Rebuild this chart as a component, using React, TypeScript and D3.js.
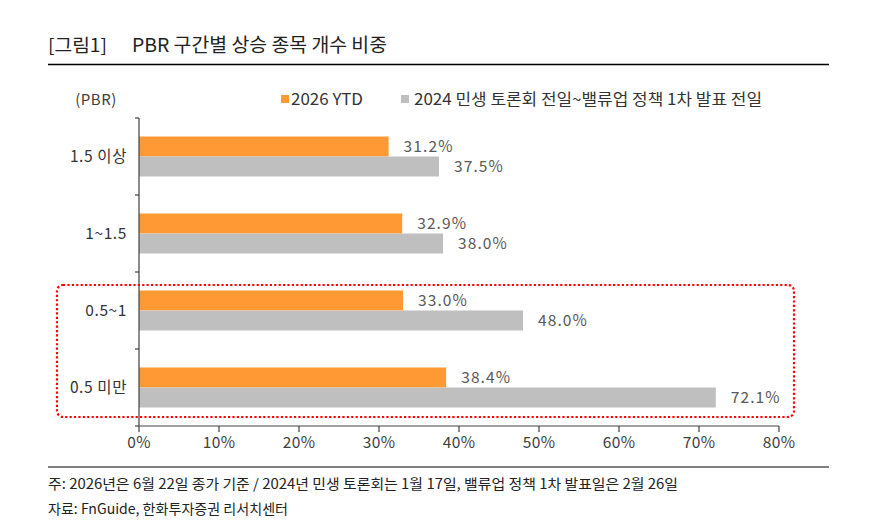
import React from "react";
import * as d3 from "d3";

// PBR bands, top to bottom
const categories = ["1.5 이상", "1~1.5", "0.5~1", "0.5 미만"];
const seriesNames = ["2026 YTD", "2024 민생 토론회 전일~밸류업 정책 1차 발표 전일"];
const ytd2026 = [31.2, 32.9, 33.0, 38.4];
const valueUp2024 = [37.5, 38.0, 48.0, 72.1];
const xTicks = [0, 10, 20, 30, 40, 50, 60, 70, 80];

const colors = ["#FF9933", "#BFBFBF"];
const FONT = "'Noto Sans CJK KR', 'Noto Sans', sans-serif";

export default function App() {
  const W = 875;
  const H = 524;
  const left = 139;
  const right = 779;
  const top = 118;
  const bottom = 426;

  const x = d3.scaleLinear().domain([0, 80]).range([left, right]);
  const y = d3.scaleBand<string>().domain(categories).range([top, bottom]);
  const barH = 20;

  const series = [ytd2026, valueUp2024];
  const bandEdges = [top, ...categories.map((c) => (y(c) as number) + y.bandwidth())];

  const highlightTop = (y("0.5~1") as number) + 13;
  const highlightBottom = (y("0.5 미만") as number) + y.bandwidth() - 9;

  return (
    <svg
      width={W}
      height={H}
      style={{ position: "absolute", left: 0, top: 0, background: "#fff" }}
      fontFamily={FONT}
    >
      {/* Title */}
      <text x={48} y={52} fontSize={18} fill="#222" textLength={59} lengthAdjust="spacingAndGlyphs">[그림1]</text>
      <text x={132} y={52} fontSize={19} fill="#222" textLength={255} lengthAdjust="spacingAndGlyphs">
        PBR 구간별 상승 종목 개수 비중
      </text>
      <line x1={48} x2={829} y1={64.5} y2={64.5} stroke="#000" strokeWidth={1.5} />

      {/* Legend */}
      <rect x={281} y={95} width={8} height={8} fill={colors[0]} />
      <text x={291} y={105} fontSize={16} fill="#333" textLength={72} lengthAdjust="spacingAndGlyphs">
        {seriesNames[0]}
      </text>
      <rect x={401} y={95} width={8} height={8} fill={colors[1]} />
      <text x={414} y={105} fontSize={16} fill="#333" textLength={348} lengthAdjust="spacingAndGlyphs">
        {seriesNames[1]}
      </text>

      <text x={96} y={105} fontSize={15} fill="#404040" textAnchor="middle" letterSpacing={0.5}>(PBR)</text>

      {/* Bars and value labels */}
      {categories.map((c, i) => {
        const cy = (y(c) as number) + y.bandwidth() / 2;
        return (
          <g key={c}>
            {series.map((s, k) => {
              const by = cy - barH + k * barH;
              return (
                <g key={k}>
                  <rect x={x(0)} y={by} width={x(s[i]) - x(0)} height={barH} fill={colors[k]} />
                  <text
                    x={x(s[i]) + 15}
                    y={by + barH / 2}
                    dy="0.35em"
                    fontSize={15.5}
                    fill="#595959"
                    letterSpacing={1.1}
                  >
                    {s[i].toFixed(1)}%
                  </text>
                </g>
              );
            })}
            <text x={127} y={cy} dy="0.35em" fontSize={15.5} fill="#333" textAnchor="end" letterSpacing={0.6}>
              {c}
            </text>
          </g>
        );
      })}

      {/* Y axis */}
      <line x1={left} x2={left} y1={top} y2={bottom} stroke="#404040" strokeWidth={1.2} />
      {bandEdges.map((e, i) => (
        <line key={i} x1={left - 4} x2={left} y1={e} y2={e} stroke="#404040" strokeWidth={1.2} />
      ))}

      {/* X axis */}
      <line x1={left} x2={right} y1={bottom} y2={bottom} stroke="#808080" strokeWidth={1.5} />
      {xTicks.map((t) => (
        <g key={t}>
          <line x1={x(t)} x2={x(t)} y1={bottom} y2={bottom + 6} stroke="#404040" strokeWidth={1.2} />
          <text x={x(t)} y={bottom + 17} dy="0.35em" fontSize={15.5} fill="#404040" textAnchor="middle" letterSpacing={0.4}>
            {t}%
          </text>
        </g>
      ))}

      {/* Highlight around the lower PBR bands */}
      <rect
        x={57}
        y={highlightTop}
        width={737}
        height={highlightBottom - highlightTop}
        rx={6}
        ry={6}
        fill="none"
        stroke="#FF0000"
        strokeWidth={2.2}
        strokeDasharray="2.2 2.2"
      />

      {/* Footer */}
      <line x1={48} x2={829} y1={467} y2={467} stroke="#000" strokeWidth={1.2} />
      <text x={48} y={489} fontSize={14} fill="#222" textLength={630} lengthAdjust="spacingAndGlyphs">
        주: 2026년은 6월 22일 종가 기준 / 2024년 민생 토론회는 1월 17일, 밸류업 정책 1차 발표일은 2월 26일
      </text>
      <text x={48} y={514} fontSize={14} fill="#222" textLength={240} lengthAdjust="spacingAndGlyphs">
        자료: FnGuide, 한화투자증권 리서치센터
      </text>
    </svg>
  );
}
